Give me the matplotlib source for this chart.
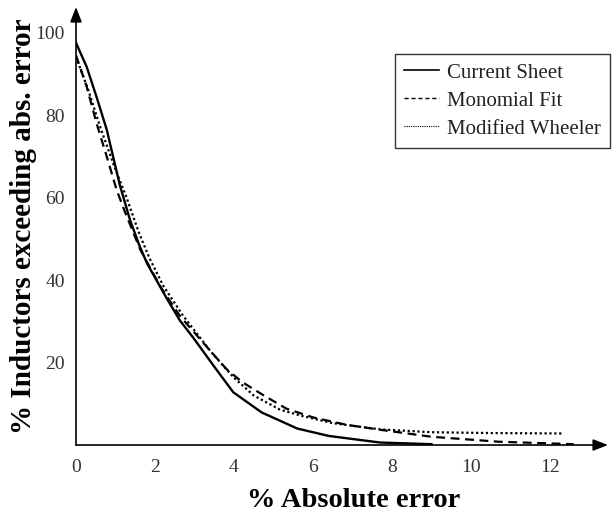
import matplotlib
matplotlib.use("Agg")
import matplotlib.pyplot as plt

plt.rcParams['font.family'] = ['Liberation Serif', 'DejaVu Serif']

# curves
sheet_x = [0, 0.27, 0.52, 0.78, 0.9, 1.11, 1.37, 1.6, 1.8, 2.3, 2.63, 2.97, 3.5, 3.98, 4.7, 5.6, 6.4, 7.7, 9.0]
sheet_y = [97.5, 91.7, 84.4, 76.4, 71.5, 63.0, 54.5, 48.5, 44.0, 35.5, 30.2, 26.0, 19.0, 12.8, 7.9, 4.0, 2.2, 0.6, 0.2]

mono_x = [0, 0.27, 0.52, 0.78, 1.03, 1.24, 1.62, 2.13, 2.63, 3.22, 3.8, 4.2, 4.74, 5.33, 6.0, 6.85, 7.7, 9.0, 10.7, 12.6]
mono_y = [94.5, 86.9, 78.0, 69.9, 61.8, 56.5, 47.5, 38.5, 31.3, 24.8, 18.5, 15.3, 12.1, 8.8, 6.7, 4.9, 3.7, 2.0, 0.8, 0.2]

wheeler_x = [0, 0.31, 0.61, 0.94, 1.28, 1.58, 1.85, 2.21, 2.7, 3.4, 4.0, 4.5, 5.16, 5.7, 6.5, 7.7, 9.0, 10.5, 12.3]
wheeler_y = [94.1, 86.1, 77.2, 68.3, 60.0, 51.8, 45.5, 38.6, 31.5, 22.8, 16.3, 12.0, 8.6, 7.1, 5.3, 3.8, 3.1, 2.9, 2.8]

xticks = [0, 2, 4, 6, 8, 10, 12]
yticks = [20, 40, 60, 80, 100]

fig = plt.figure(figsize=(6.12, 5.15), dpi=100)
ax = fig.add_axes([0.1242, 0.1359, 0.8693, 0.8505])

ax.plot(sheet_x, sheet_y, color='black', lw=1.7, label='Current Sheet')
ax.plot(mono_x, mono_y, color='black', lw=1.6, linestyle=(0, (4, 2.5)), label='Monomial Fit')
ax.plot(wheeler_x, wheeler_y, color='black', lw=1.6, linestyle=(0, (1, 1.2)), label='Modified Wheeler')

ax.set_xlim(0, 13.47)
ax.set_ylim(0, 106.2)
ax.set_xticks(xticks)
ax.set_yticks(yticks)
ax.tick_params(length=0, labelsize=14, labelcolor='#333333')
ax.tick_params(axis='x', pad=10)
ax.tick_params(axis='y', pad=8)

for s in ax.spines.values():
    s.set_visible(False)

# axes with arrow heads
arrow = dict(arrowstyle='-|>,head_length=0.9,head_width=0.35', color='black', lw=1.2,
             shrinkA=0, shrinkB=0)
ax.annotate('', xy=(1, 0), xytext=(0, 0), xycoords='axes fraction', arrowprops=arrow)
ax.annotate('', xy=(0, 1), xytext=(0, 0), xycoords='axes fraction', arrowprops=arrow)

ax.set_xlabel('% Absolute error', fontsize=20.5, fontweight='bold')
ax.xaxis.set_label_coords(0.5226, -0.099)
ax.set_ylabel('% Inductors exceeding abs. error', fontsize=21, fontweight='bold', labelpad=-1)
ax.yaxis.label.set_y(0.5)

leg = ax.legend(loc='upper left', bbox_to_anchor=(0.5996, 0.8927), borderaxespad=0,
                fontsize=15, frameon=True, fancybox=False, edgecolor='black',
                handlelength=1.68, labelspacing=0.4, borderpad=0.44, handletextpad=0.38)
leg.get_frame().set_linewidth(1.0)
hl = leg.get_lines()
hl[0].set_linewidth(1.2)
hl[1].set_linewidth(1.0)
hl[1].set_linestyle((0, (3, 2)))
hl[2].set_linewidth(0.8)
hl[2].set_linestyle((0, (1, 1)))
for t in leg.get_texts():
    t.set_color('#222222')

fig.savefig('out.png', dpi=100)
